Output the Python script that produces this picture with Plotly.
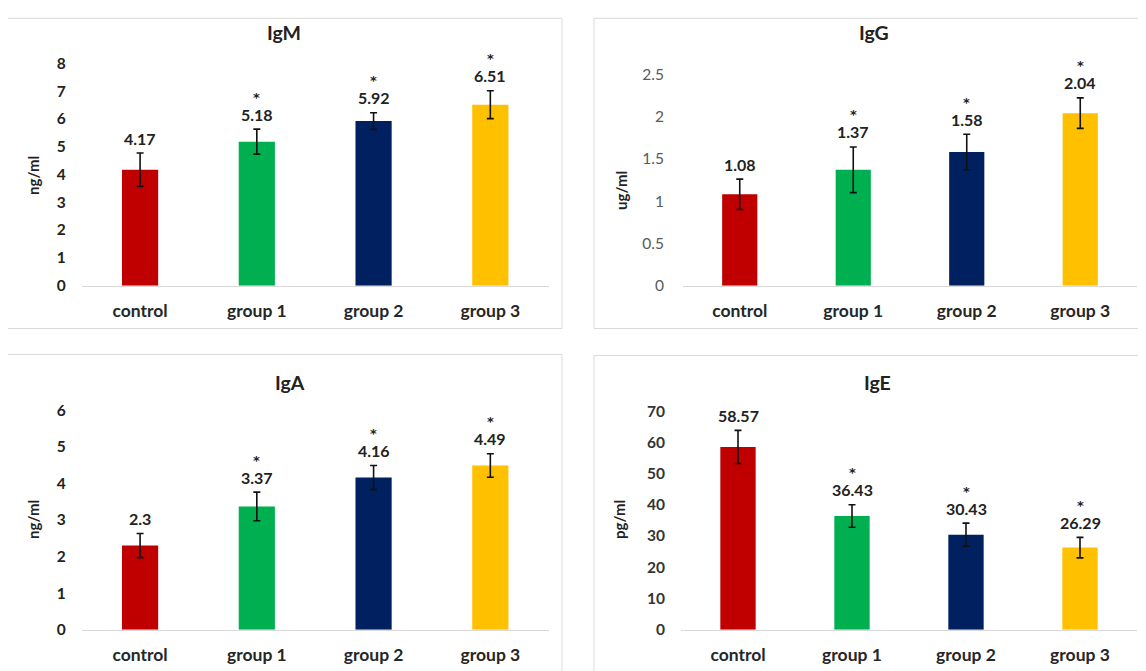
import plotly.graph_objects as go

categories = ["control", "group 1", "group 2", "group 3"]
colors = ["#C00000", "#00B050", "#002060", "#FFC000"]

igm = [4.17, 5.18, 5.92, 6.51]
igm_err = [0.6, 0.45, 0.3, 0.5]
igg = [1.08, 1.37, 1.58, 2.04]
igg_err = [0.18, 0.27, 0.21, 0.18]
iga = [2.3, 3.37, 4.16, 4.49]
iga_err = [0.33, 0.39, 0.33, 0.32]
ige = [58.57, 36.43, 30.43, 26.29]
ige_err = [5.3, 3.6, 3.7, 3.3]

sig_igm = [False, True, True, True]
sig_igg = [False, True, True, True]
sig_iga = [False, True, True, True]
sig_ige = [False, True, True, True]

OFFX = 8
W, H = 1146 - 2 * OFFX, 671
KY, TOP = 0.976, 17
FONT = "Lato"


def fx(p):
    return (p - OFFX) / W


def fy(p):
    v = 1 - (p / KY - TOP) / H
    return min(v, 0.9995)


panels = [
    dict(name="IgM", unit="ng/ml", vals=igm, err=igm_err, sig=sig_igm, ymax=8, dtick=1,
         px=(81.7, 548.7), py=(285, 62), box=(7, 8, 562, 328), title=(284, 31), ylab=(33, 175),
         tickcol="#222222", tickw="bold", standoff=15),
    dict(name="IgG", unit="ug/ml", vals=igg, err=igg_err, sig=sig_igg, ymax=2.5, dtick=0.5,
         px=(683, 1137), py=(285, 73), box=(594, 8, 1160, 328), title=(874, 31), ylab=(621, 190),
         tickcol="#595959", tickw="normal", standoff=18),
    dict(name="IgA", unit="ng/ml", vals=iga, err=iga_err, sig=sig_iga, ymax=6, dtick=1,
         px=(81.7, 548.7), py=(630, 410), box=(7, 354, 562, 700), title=(290, 382), ylab=(33, 520),
         tickcol="#222222", tickw="bold", standoff=15),
    dict(name="IgE", unit="pg/ml", vals=ige, err=ige_err, sig=sig_ige, ymax=70, dtick=10,
         px=(681, 1137), py=(630, 411), box=(594, 355, 1160, 700), title=(877, 382), ylab=(619, 520),
         tickcol="#333333", tickw="bold", standoff=15),
]

fig = go.Figure()
layout = dict(
    width=W, height=H, autosize=False,
    margin=dict(l=0, r=0, t=0, b=0),
    paper_bgcolor="white", plot_bgcolor="white",
    showlegend=False, bargap=0.69,
    font=dict(family=FONT, color="#222222"),
    shapes=[], annotations=[],
)

for i, p in enumerate(panels):
    n = "" if i == 0 else str(i + 1)
    xa, ya = "x" + n, "y" + n
    fig.add_trace(go.Bar(
        x=categories, y=p["vals"], marker=dict(color=colors, line=dict(width=0)),
        error_y=dict(type="data", array=p["err"], color="#111111", thickness=1.6, width=3.5),
        xaxis=xa, yaxis=ya, hoverinfo="skip",
    ))
    for c, v, e, s in zip(categories, p["vals"], p["err"], p["sig"]):
        layout["annotations"].append(dict(
            text=f"{v:g}", x=c, y=v + e, xref=xa, yref=ya,
            xanchor="center", yanchor="middle", yshift=15, showarrow=False,
            font=dict(family=FONT, size=16, color="#222222", weight="bold"),
        ))
        if s:
            layout["annotations"].append(dict(
                text="*", x=c, y=v + e, xref=xa, yref=ya,
                xanchor="center", yanchor="middle", yshift=32, showarrow=False,
                font=dict(family="DejaVu Sans", size=13, color="#222222", weight="bold"),
            ))
    layout["xaxis" + n] = dict(
        domain=[fx(p["px"][0]), fx(p["px"][1])], anchor=ya,
        type="category", range=[-0.5, 3.5], showgrid=False, zeroline=False,
        showline=True, linecolor="#D9D9D9", linewidth=1, ticks="",
        tickfont=dict(family=FONT, size=17.5, color="#262626", weight="bold"),
        ticklabelstandoff=9,
    )
    layout["yaxis" + n] = dict(
        domain=[fy(p["py"][0]), fy(p["py"][1])], anchor=xa,
        range=[0, p["ymax"]], dtick=p["dtick"], showgrid=False, zeroline=False,
        showline=False, ticks="",
        tickfont=dict(family=FONT, size=15.5, color=p["tickcol"], weight=p["tickw"]),
        ticklabelstandoff=p["standoff"],
    )
    bx0, by0, bx1, by1 = p["box"]
    layout["shapes"].append(dict(
        type="rect", xref="paper", yref="paper",
        x0=fx(bx0), x1=fx(bx1), y0=fy(by1), y1=fy(by0),
        line=dict(color="#D9D9D9", width=1), fillcolor="rgba(0,0,0,0)", layer="below",
    ))
    layout["annotations"].append(dict(
        text=p["name"], xref="paper", yref="paper",
        x=fx(p["title"][0]), y=fy(p["title"][1]), xanchor="center", yanchor="middle",
        showarrow=False, font=dict(family=FONT, size=19.5, color="#222222", weight="bold"),
    ))
    layout["annotations"].append(dict(
        text=p["unit"], xref="paper", yref="paper", textangle=-90,
        x=fx(p["ylab"][0]), y=fy(p["ylab"][1]), xanchor="center", yanchor="middle",
        showarrow=False, font=dict(family=FONT, size=15, color="#222222", weight="bold"),
    ))

fig.update_layout(**layout)
fig.write_html("out.html")
